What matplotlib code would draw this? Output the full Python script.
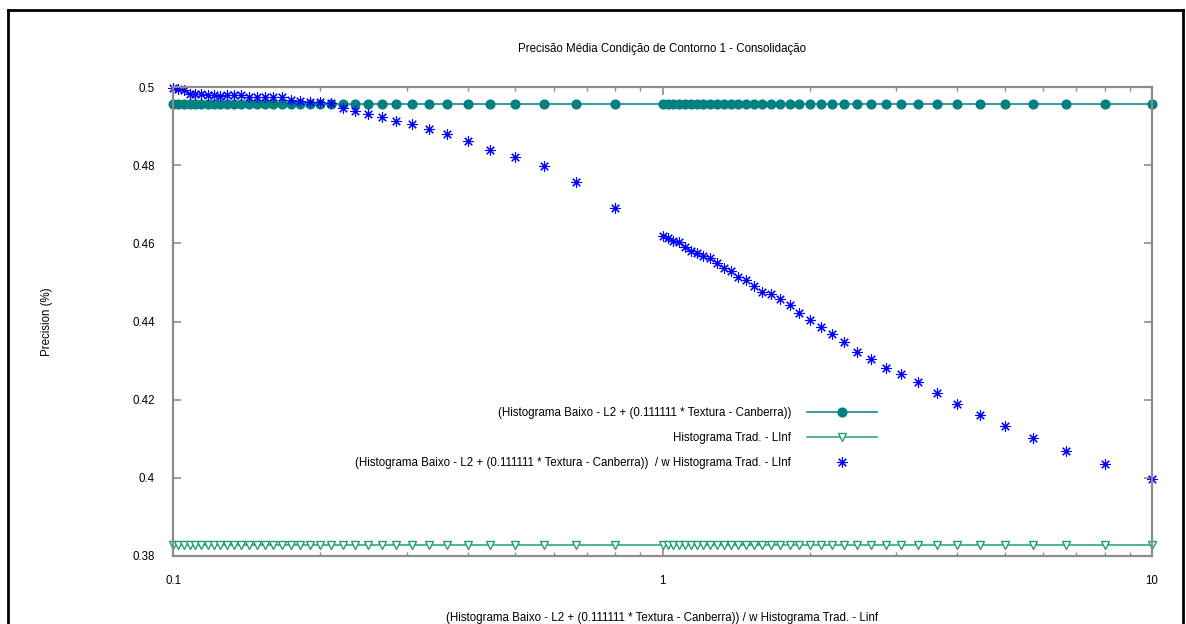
import matplotlib
matplotlib.use("Agg")
import matplotlib.pyplot as plt
from matplotlib.lines import Line2D
from matplotlib.ticker import FixedLocator, NullFormatter, FuncFormatter

plt.rcParams['font.family'] = ['Liberation Sans', 'DejaVu Sans']

# weight ratio on the x axis (0.1 .. 0.8, then 1 .. 10)
x_w = [0.1, 0.10256, 0.10526, 0.10811, 0.11111, 0.11429, 0.11765, 0.12121,
       0.125, 0.12903, 0.13333, 0.13793, 0.14286, 0.14815, 0.15385, 0.16,
       0.16667, 0.17391, 0.18182, 0.19048, 0.2, 0.21053, 0.22222, 0.23529,
       0.25, 0.26667, 0.28571, 0.30769, 0.33333, 0.36364, 0.4, 0.44444,
       0.5, 0.57143, 0.66667, 0.8,
       1.0, 1.02564, 1.05263, 1.08108, 1.11111, 1.14286, 1.17647, 1.21212,
       1.25, 1.29032, 1.33333, 1.37931, 1.42857, 1.48148, 1.53846, 1.6,
       1.66667, 1.73913, 1.81818, 1.90476, 2.0, 2.10526, 2.22222, 2.35294,
       2.5, 2.66667, 2.85714, 3.07692, 3.33333, 3.63636, 4.0, 4.44444,
       5.0, 5.71429, 6.66667, 8.0, 10.0]

# combined descriptor precision
prec_comb = [0.4998, 0.4995, 0.4992, 0.4983, 0.4981, 0.4981, 0.4980, 0.4979,
             0.4978, 0.4979, 0.4980, 0.4979, 0.4975, 0.4974, 0.4974, 0.4974,
             0.4975, 0.4968, 0.4964, 0.4962, 0.4962, 0.4960, 0.4946, 0.4938,
             0.4930, 0.4922, 0.4912, 0.4905, 0.4892, 0.4879, 0.4863, 0.4838,
             0.4822, 0.4799, 0.4758, 0.4690,
             0.4620, 0.4613, 0.4605, 0.4603, 0.4590, 0.4581, 0.4575, 0.4567,
             0.4562, 0.4549, 0.4537, 0.4528, 0.4515, 0.4507, 0.4492, 0.4476,
             0.4470, 0.4457, 0.4443, 0.4422, 0.4404, 0.4385, 0.4367, 0.4348,
             0.4323, 0.4304, 0.4281, 0.4266, 0.4245, 0.4217, 0.4189, 0.4161,
             0.4133, 0.4102, 0.4068, 0.4035, 0.3997]

# the two single descriptors do not depend on the weight
prec_baixo = [0.4956] * len(x_w)
prec_trad = [0.3827] * len(x_w)

lbl_baixo = "(Histograma Baixo - L2 + (0.111111 * Textura - Canberra))"
lbl_trad = "Histograma Trad. - LInf"
lbl_comb = "(Histograma Baixo - L2 + (0.111111 * Textura - Canberra))  / w Histograma Trad. - LInf"

y_ticks = [0.38, 0.4, 0.42, 0.44, 0.46, 0.48, 0.5]
x_ticks = [0.1, 1, 10]

FS = 8.3
W, H = 1186, 624
fig = plt.figure(figsize=(W / 100, H / 100), dpi=100)
ax = fig.add_axes([173 / W, 1 - 556 / H, (1152 - 173) / W, (556 - 87) / H])

ax.plot(x_w, prec_baixo, color='#008080', lw=1.1, marker='o', ms=6.3,
        mec='#008080', mfc='#008080', label=lbl_baixo, clip_on=False)
ax.plot(x_w, prec_trad, color='#23a06a', lw=1.1, marker='v', ms=6,
        mec='#23a06a', mfc='white', mew=1.0, label=lbl_trad, clip_on=False)
ax.plot(x_w, prec_comb, ls='none', color='#0000ff', marker=(8, 2, 0), ms=7.5,
        mew=0.8, label=lbl_comb, clip_on=False)

ax.set_xscale('log')
ax.set_xlim(0.1, 10)
ax.set_ylim(0.38, 0.5)
ax.xaxis.set_major_locator(FixedLocator(x_ticks))
ax.xaxis.set_major_formatter(FuncFormatter(lambda v, p: '%g' % v))
ax.xaxis.set_minor_formatter(NullFormatter())
ax.yaxis.set_major_locator(FixedLocator(y_ticks))
ax.yaxis.set_major_formatter(FuncFormatter(lambda v, p: '%g' % v))

for s in ax.spines.values():
    s.set_color('#8c8c8c')
    s.set_linewidth(1.6)
ax.tick_params(which='both', direction='in', top=True, right=True,
               color='#8c8c8c', labelsize=FS)
ax.tick_params(which='major', length=6, width=1.2)
ax.tick_params(which='minor', length=3, width=1.0)
ax.tick_params(axis='x', pad=14)
ax.tick_params(axis='y', pad=13)

leg = ax.legend(loc='upper right', bbox_to_anchor=(883 / W, 1 - 401 / H),
                bbox_transform=fig.transFigure, frameon=False, markerfirst=False,
                fontsize=FS, handlelength=6.1, handletextpad=1.35,
                labelspacing=1.12, borderpad=0, numpoints=1)

fig.text(662 / W, 1 - 49 / H, "Precisão Média Condição de Contorno 1 - Consolidação",
         ha='center', va='center', fontsize=FS)
fig.text(47 / W, 1 - 322 / H, "Precision (%)", rotation=90,
         ha='center', va='center', fontsize=FS)
fig.text(662 / W, 1 - 612 / H,
         "(Histograma Baixo - L2 + (0.111111 * Textura - Canberra)) / w Histograma Trad. - Linf",
         ha='center', va='top', fontsize=FS)

# window border of the screenshot
for xs, ys in [([8, 1183], [10, 10]), ([8, 8], [10, H]), ([1183, 1183], [10, H])]:
    fig.add_artist(Line2D([v / W for v in xs], [1 - v / H for v in ys],
                          color='black', lw=2.0))

fig.savefig("out.png", dpi=100)
